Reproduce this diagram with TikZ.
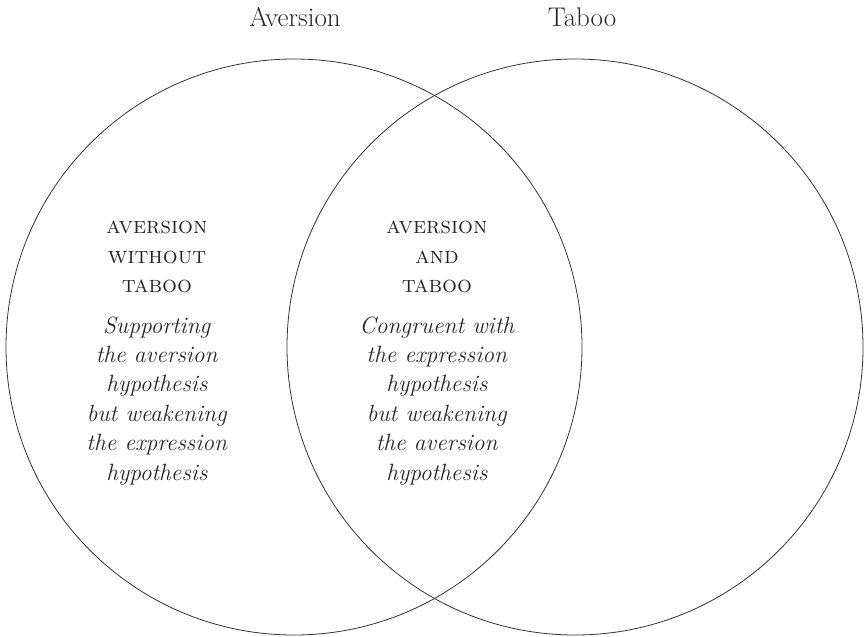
\documentclass[tikz,border=0pt]{standalone}
\usepackage{fontspec}

\begin{document}
\begin{tikzpicture}[x=1pt, y=-1pt, line width=0.8pt]
  \useasboundingbox (0,0) rectangle (865,637);

  % --- 1. circles ---
  \def\rad{288pt}
  \coordinate (Acenter) at (294, 347);
  \coordinate (Tcenter) at (575, 347);
  \draw[black!80] (Acenter) circle (\rad);
  \draw[black!80] (Tcenter) circle (\rad);

  % --- 2. headings ---
  \node[anchor=base, inner sep=0pt, text=black!85, font=\fontsize{27}{32}\selectfont]
    (aversionLabel) at (295, 27) {Aversion};
  \node[anchor=base, inner sep=0pt, text=black!85, font=\fontsize{27}{32}\selectfont]
    (tabooLabel) at (582, 27) {Taboo};

  % --- 3. region texts (base = last line) ---
  \node[anchor=base, inner sep=0pt, align=center, text=black!85,
        font=\fontsize{23.5}{29.4}\selectfont] (onlyAversion) at (157, 480)
    {\textsc{aversion}\\ \textsc{without}\\ \textsc{taboo}\\[11pt]
     \textit{Supporting}\\ \textit{the aversion}\\ \textit{hypothesis}\\
     \textit{but weakening}\\ \textit{the expression}\\ \textit{hypothesis}};
  \node[anchor=base, inner sep=0pt, align=center, text=black!85,
        font=\fontsize{23.5}{29.4}\selectfont] (bothRegions) at (437, 480)
    {\textsc{aversion}\\ \textsc{and}\\ \textsc{taboo}\\[11pt]
     \textit{Congruent with}\\ \textit{the expression}\\ \textit{hypothesis}\\
     \textit{but weakening}\\ \textit{the aversion}\\ \textit{hypothesis}};

\end{tikzpicture}
\end{document}
